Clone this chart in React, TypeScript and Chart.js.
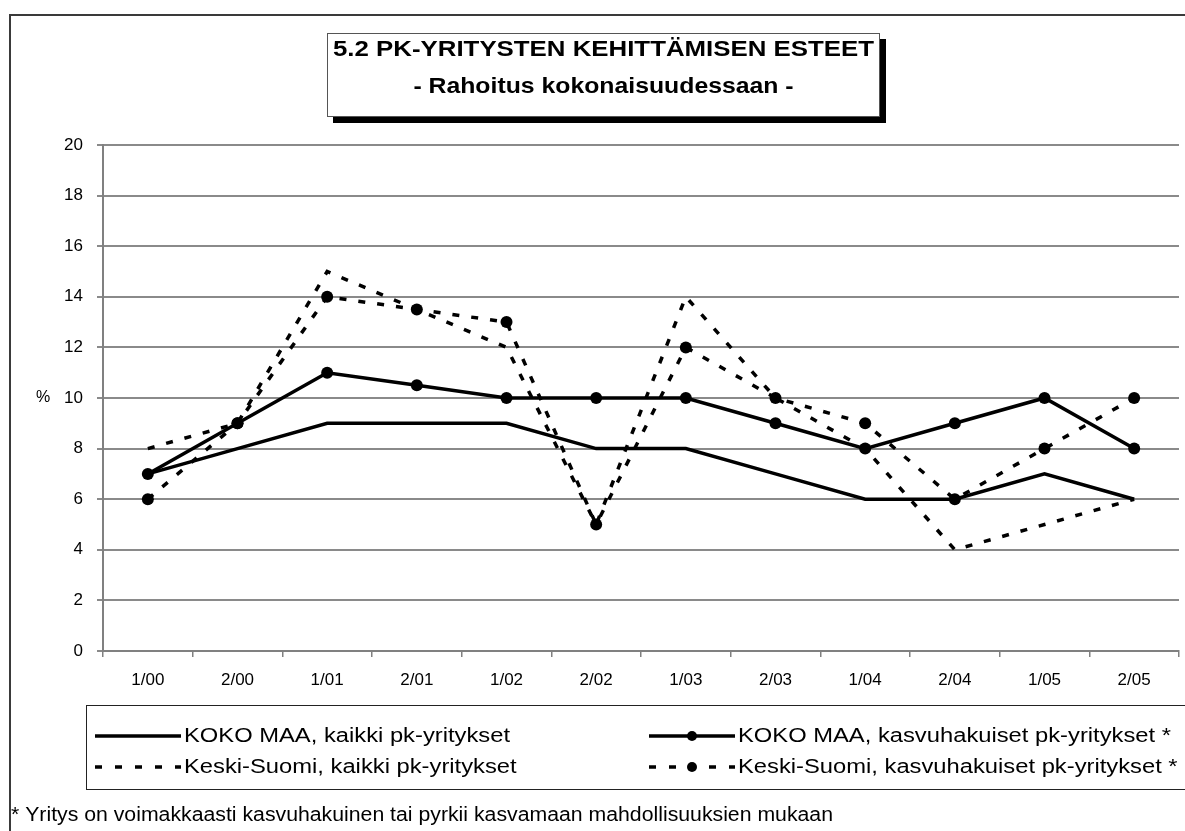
import React, { useEffect, useRef } from 'react';
import { Chart, registerables } from 'chart.js';

Chart.register(...registerables);

const categories = ['1/00', '2/00', '1/01', '2/01', '1/02', '2/02', '1/03', '2/03', '1/04', '2/04', '1/05', '2/05'];
const kokoMaaKaikki = [7, 8, 9, 9, 9, 8, 8, 7, 6, 6, 7, 6];
const kokoMaaKasvu = [7, 9, 11, 10.5, 10, 10, 10, 9, 8, 9, 10, 8];
const keskiSuomiKaikki = [8, 9, 15, 13.5, 12, 5, 14, 10, 8, 4, 5, 6];
const keskiSuomiKasvu = [6, 9, 14, 13.5, 13, 5, 12, 10, 9, 6, 8, 10];

const seriesNames = [
  'KOKO MAA, kaikki pk-yritykset',
  'KOKO MAA, kasvuhakuiset pk-yritykset *',
  'Keski-Suomi, kaikki pk-yritykset',
  'Keski-Suomi, kasvuhakuiset pk-yritykset *',
];
const titleLines = ['5.2 PK-YRITYSTEN KEHITTÄMISEN ESTEET', '- Rahoitus kokonaisuudessaan -'];
const footnote = '* Yritys on voimakkaasti kasvuhakuinen tai pyrkii kasvamaan mahdollisuuksien mukaan';
const yAxisLabel = '%';
const yMin = 0;
const yMax = 20;
const yStep = 2;

const FONT = '"Liberation Sans", Arial, Helvetica, sans-serif';
const DASH = [7, 12];

function drawFitText(ctx: CanvasRenderingContext2D, text: string, x: number, y: number, font: string, sx: number, align: 'left' | 'center') {
  ctx.save();
  ctx.font = font;
  ctx.textBaseline = 'middle';
  ctx.textAlign = 'left';
  const w = ctx.measureText(text).width * sx;
  const left = align === 'center' ? x - w / 2 : x;
  ctx.translate(left, y);
  ctx.scale(sx, 1);
  ctx.fillStyle = '#000';
  ctx.fillText(text, 0, 0);
  ctx.restore();
}

function scaleFor(ctx: CanvasRenderingContext2D, text: string, font: string, target: number) {
  ctx.save();
  ctx.font = font;
  const w = ctx.measureText(text).width;
  ctx.restore();
  return target / w;
}

const decor = {
  id: 'decor',
  beforeDraw(chart: any) {
    const ctx = chart.ctx;
    ctx.save();
    ctx.fillStyle = '#fff';
    ctx.fillRect(0, 0, chart.width, chart.height);
    ctx.restore();
  },
  afterDraw(chart: any) {
    const ctx: CanvasRenderingContext2D = chart.ctx;
    ctx.save();
    // outer frame
    ctx.strokeStyle = '#3a3a3a';
    ctx.lineWidth = 2;
    ctx.beginPath();
    ctx.moveTo(10, chart.height + 5);
    ctx.lineTo(10, 15);
    ctx.lineTo(chart.width + 5, 15);
    ctx.stroke();

    // title box
    const bx = 327, by = 33, bw = 553, bh = 84;
    ctx.fillStyle = '#000';
    ctx.fillRect(bx + 6, by + 6, bw, bh);
    ctx.fillStyle = '#fff';
    ctx.fillRect(bx, by, bw, bh);
    ctx.strokeStyle = '#555';
    ctx.lineWidth = 1;
    ctx.strokeRect(bx + 0.5, by + 0.5, bw - 1, bh - 1);
    const tFont = `bold 22px ${FONT}`;
    const tScale = scaleFor(ctx, titleLines[0], tFont, 541);
    drawFitText(ctx, titleLines[0], bx + bw / 2, 50, tFont, tScale, 'center');
    drawFitText(ctx, titleLines[1], bx + bw / 2, 87, tFont, tScale * 0.96, 'center');

    // y axis label
    const yS = chart.scales.y;
    drawFitText(ctx, yAxisLabel, 43, yS.getPixelForValue(10), `16px ${FONT}`, 1, 'center');

    // legend box
    ctx.strokeStyle = '#222';
    ctx.lineWidth = 1;
    ctx.strokeRect(86.5, 705.5, 1200, 84);
    const lFont = `20px ${FONT}`;
    const lScale = scaleFor(ctx, seriesNames[0], lFont, 326);
    const rows = [736, 767];
    const cols = [{ s: 95, e: 181, t: 184 }, { s: 649, e: 735, t: 738 }];
    const items = [
      { c: 0, r: 0, dash: false, marker: false },
      { c: 1, r: 0, dash: false, marker: true },
      { c: 0, r: 1, dash: true, marker: false },
      { c: 1, r: 1, dash: true, marker: true },
    ];
    items.forEach((it, i) => {
      const col = cols[it.c];
      const y = rows[it.r];
      ctx.save();
      ctx.strokeStyle = '#000';
      ctx.lineWidth = 3.5;
      ctx.lineCap = 'butt';
      ctx.setLineDash(it.dash ? [7, 13] : []);
      ctx.beginPath();
      ctx.moveTo(col.s, y);
      ctx.lineTo(col.e, y);
      ctx.stroke();
      if (it.marker) {
        ctx.setLineDash([]);
        ctx.fillStyle = '#000';
        ctx.beginPath();
        ctx.arc((col.s + col.e) / 2, y, 5, 0, Math.PI * 2);
        ctx.fill();
      }
      ctx.restore();
      drawFitText(ctx, seriesNames[i], col.t, y, lFont, lScale, 'left');
    });

    // footnote
    const fFont = `20px ${FONT}`;
    const fScale = scaleFor(ctx, footnote, fFont, 822);
    drawFitText(ctx, footnote, 11, 815, fFont, fScale, 'left');
    ctx.restore();
  },
};

export default function App() {
  const canvasRef = useRef<HTMLCanvasElement | null>(null);

  useEffect(() => {
    const canvas = canvasRef.current;
    if (!canvas) return;
    const base = {
      borderColor: '#000',
      backgroundColor: '#000',
      borderWidth: 3.5,
      tension: 0,
      fill: false,
      borderCapStyle: 'butt' as const,
      pointBackgroundColor: '#000',
      pointBorderColor: '#000',
      pointBorderWidth: 0,
      pointHoverRadius: 6,
    };
    const chart = new Chart(canvas, {
      type: 'line',
      data: {
        labels: categories,
        datasets: [
          { ...base, label: seriesNames[0], data: kokoMaaKaikki, pointRadius: 0 },
          { ...base, label: seriesNames[1], data: kokoMaaKasvu, pointRadius: 6 },
          { ...base, label: seriesNames[2], data: keskiSuomiKaikki, pointRadius: 0, borderDash: DASH },
          { ...base, label: seriesNames[3], data: keskiSuomiKasvu, pointRadius: 6, borderDash: DASH },
        ],
      },
      options: {
        animation: false,
        responsive: false,
        devicePixelRatio: 1,
        layout: { padding: { left: 0, right: 5, top: 145, bottom: 140 } },
        plugins: {
          legend: { display: false },
          title: { display: false },
          tooltip: { enabled: false },
        },
        scales: {
          x: {
            type: 'category',
            offset: true,
            afterFit: (s: any) => { s.height = 40; },
            grid: {
              offset: true,
              drawOnChartArea: false,
              drawTicks: true,
              tickLength: 6,
              color: '#808080',
              lineWidth: 1.5,
            },
            border: { display: true, color: '#808080', width: 2 },
            ticks: {
              color: '#000',
              font: { family: FONT, size: 17 },
              maxRotation: 0,
              autoSkip: false,
              padding: 13,
            },
          },
          y: {
            min: yMin,
            max: yMax,
            afterFit: (s: any) => { s.width = 103; },
            grid: {
              color: '#8a8a8a',
              lineWidth: 2,
              drawTicks: true,
              tickLength: 6,
            },
            border: { display: true, color: '#808080', width: 2 },
            ticks: {
              stepSize: yStep,
              color: '#000',
              font: { family: FONT, size: 17 },
              padding: 14,
            },
          },
        },
      },
      plugins: [decor],
    });
    return () => chart.destroy();
  }, []);

  return (
    <div style={{ position: 'fixed', left: 0, top: 0, width: 1185, height: 831, background: '#fff' }}>
      <canvas ref={canvasRef} width={1185} height={831} style={{ display: 'block' }} />
    </div>
  );
}
